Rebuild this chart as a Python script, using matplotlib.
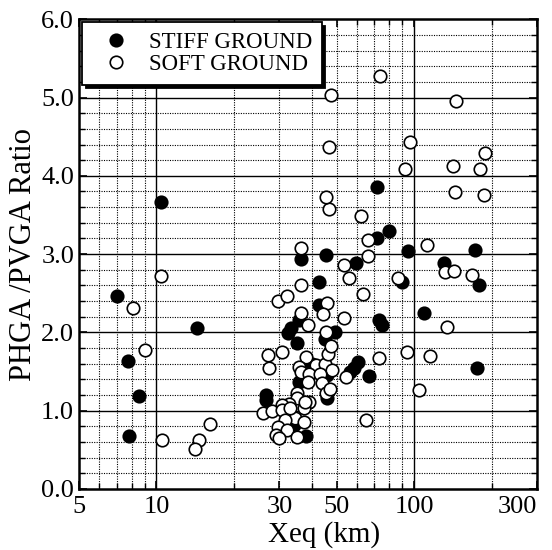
import matplotlib
matplotlib.use("Agg")
from matplotlib import pyplot as plt
from matplotlib.ticker import FixedLocator, FixedFormatter, MultipleLocator, NullFormatter

plt.rcParams['font.family'] = ['Liberation Serif', 'DejaVu Serif']

# stiff ground (filled)
stiff_x = [7.01, 7.78, 8.53, 7.85, 10.4, 14.3, 26.7, 26.7, 36.5, 45.5, 42.8, 42.8,
           35.7, 33.2, 32.5, 35.0, 49.5, 45.0, 40.0, 45.8, 35.7, 45.8, 34.2, 38.2,
           71.9, 79.9, 71.7, 94.5, 59.4, 89.6, 73.3, 74.8, 109.4, 60.4, 58.5, 56.5,
           66.9, 172.6, 130.0, 177.9, 175.5]
stiff_y = [2.47, 1.63, 1.19, 0.68, 3.66, 2.06, 1.20, 1.14, 2.94, 2.99, 2.64, 2.35,
           2.16, 2.05, 1.99, 1.86, 2.01, 1.92, 1.60, 1.45, 1.36, 1.16, 0.82, 0.68,
           3.86, 3.29, 3.21, 3.04, 2.88, 2.64, 2.16, 2.09, 2.25, 1.62, 1.55, 1.50,
           1.44, 3.05, 2.88, 2.60, 1.54]

# soft ground (open)
soft_x = [8.09, 9.04, 10.4, 10.46, 16.1, 14.6, 14.06, 27.1, 27.4, 25.9, 28.0, 29.6,
          32.0, 36.3, 36.5, 36.3, 38.8, 46.0, 44.4, 45.5, 30.8, 38.0, 41.6, 45.0,
          46.1, 47.5, 35.7, 36.3, 39.1, 48.2, 43.0, 43.7, 38.6, 35.2, 45.5, 47.0,
          39.1, 35.0, 32.7, 30.6, 30.8, 37.4, 34.6, 31.5, 37.4, 29.5, 32.0, 29.2,
          29.9, 35.2, 37.7, 33.0,
          46.8, 47.5, 73.8, 145.6, 96.4, 92.2, 46.8, 45.5, 62.0, 66.3, 112.0, 53.4,
          66.3, 56.0, 86.9, 63.5, 53.4, 93.7, 73.3, 115.4, 54.6, 104.5, 65.0,
          189.0, 142.0, 180.6, 144.4, 186.0, 132.0, 143.0, 167.6, 134.0]
soft_y = [2.31, 1.78, 2.72, 0.62, 0.83, 0.63, 0.51, 1.71, 1.54, 0.97, 0.99, 2.40,
          2.47, 3.08, 2.61, 2.25, 2.10, 2.37, 2.23, 2.01, 1.75, 1.69, 1.58, 1.60,
          1.73, 1.82, 1.56, 1.50, 1.47, 1.52, 1.47, 1.35, 1.37, 1.22, 1.22, 1.28,
          1.11, 1.16, 1.09, 1.07, 1.01, 1.03, 0.90, 0.88, 0.86, 0.79, 0.75, 0.69,
          0.65, 0.67, 1.11, 1.03,
          4.37, 5.03, 5.28, 4.96, 4.43, 4.09, 3.58, 3.73, 3.49, 3.18, 3.11, 2.86,
          2.97, 2.70, 2.69, 2.49, 2.18, 1.75, 1.67, 1.70, 1.43, 1.26, 0.88,
          4.29, 4.12, 4.09, 3.79, 3.76, 2.77, 2.79, 2.73, 2.07]

x_ticks = [5, 10, 30, 50, 100, 300]
x_labels = ['5', '10', '30', '50', '100', '300']
x_solid = [10, 100]
x_dotted = [6, 7, 8, 9, 20, 30, 40, 50, 60, 70, 80, 90, 200]

fig = plt.figure(figsize=(5.52, 5.50), dpi=100)
ax = fig.add_axes([0.143, 0.111, 0.830, 0.854])

# grid
for v in x_solid:
    ax.axvline(v, color='black', lw=1.0, zorder=1)
for v in x_dotted:
    ax.axvline(v, color='black', lw=0.8, ls=(0, (1, 1.2)), zorder=1)
for k in range(1, 30):
    yv = k * 0.2
    if k % 5 == 0:
        ax.axhline(yv, color='black', lw=1.0, zorder=1)
    else:
        ax.axhline(yv, color='black', lw=0.8, ls=(0, (1, 1.2)), zorder=1)

ax.plot(stiff_x, stiff_y, 'o', ms=9, mfc='black', mec='black', mew=1.2,
        label='STIFF GROUND', zorder=3)
ax.plot(soft_x, soft_y, 'o', ms=9, mfc='white', mec='black', mew=1.2,
        label='SOFT GROUND', zorder=3)

ax.set_xscale('log')
ax.set_xlim(5, 300)
ax.set_ylim(0, 6)
ax.xaxis.set_major_locator(FixedLocator(x_ticks))
ax.xaxis.set_major_formatter(FixedFormatter(x_labels))
ax.xaxis.set_minor_locator(FixedLocator(x_dotted + x_solid))
ax.xaxis.set_minor_formatter(NullFormatter())
ax.yaxis.set_major_locator(MultipleLocator(1.0))
ax.yaxis.set_minor_locator(MultipleLocator(0.2))
ax.set_yticklabels(['%.1f' % v for v in ax.get_yticks()])

ax.tick_params(which='both', direction='in', top=True, right=True, labelsize=19)
ax.tick_params(which='major', length=6, width=1.2)
ax.tick_params(which='minor', length=4, width=1.0)
ax.tick_params(axis='x', pad=5)
for s in ax.spines.values():
    s.set_linewidth(1.8)

# keep last x label inside the figure
ax.get_xticklabels()[-1].set_horizontalalignment('right')

ax.set_xlabel('Xeq (km)', fontsize=21)
ax.xaxis.set_label_coords(0.535, -0.068)
ax.set_ylabel('PHGA /PVGA Ratio', fontsize=22, labelpad=2)

leg = ax.legend(loc='upper left', bbox_to_anchor=(0.007, 0.994), fontsize=16.5,
                frameon=True, fancybox=False, edgecolor='black',
                shadow={'color': 'black', 'ox': 2.5, 'oy': -2.5, 'alpha': 1},
                handletextpad=0.4, borderpad=0.42, labelspacing=0.05,
                handlelength=2.1, borderaxespad=0)
leg.get_frame().set_linewidth(1.3)
leg.get_frame().set_alpha(1)
leg.set_zorder(5)

fig.savefig('out.png', dpi=100)
